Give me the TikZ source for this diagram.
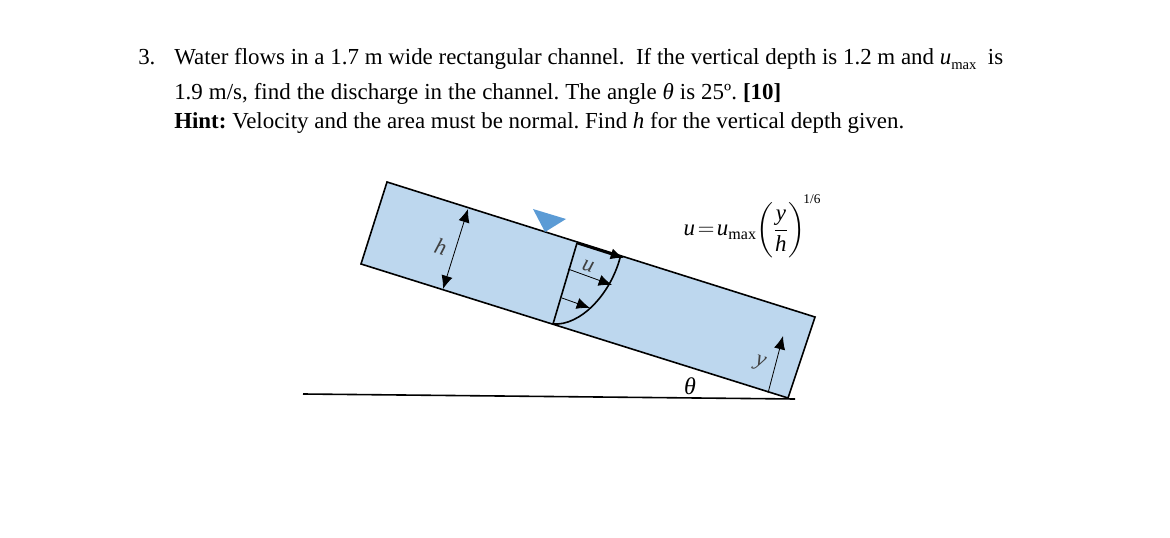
\documentclass[tikz,border=0pt]{standalone}
\usepackage{amsmath}
\usepackage{fontspec}
\setmainfont{Liberation Serif}
\usetikzlibrary{arrows.meta}
\definecolor{waterblue}{HTML}{BDD7EE}
\definecolor{surfaceblue}{HTML}{5B9BD5}
\definecolor{labelgrey}{HTML}{404040}
\tikzset{
    textline/.style = {anchor = base west, inner sep = 0pt, font = \fontsize{17.2}{20}\selectfont\frenchspacing},
    channelline/.style = {draw = black, line width = 1.2pt},
    velarrow/.style = {-{Latex[length = 10pt, width = 8.5pt]}, line width = 0.6pt},
    tilted/.style = {rotate = -17.5, text = labelgrey, font = \fontsize{17}{20}\selectfont\itshape}
}
\begin{document}
\begin{tikzpicture}[x = 0.75pt, y = -0.75pt]
    \useasboundingbox (0, 0) rectangle (1170, 538);

    \node[textline] (num) at (138, 65) {3.};
    \node[textline] (line1) at (174, 65) {\makebox[621.75pt][s]{Water flows in a 1.7 m wide rectangular channel.\ \ If the vertical depth is 1.2 m and \textit{u}\raisebox{-0.45ex}{\fontsize{11}{12}\selectfont max}\ \ is}};
    \node[textline] (line2) at (174, 100) {\makebox[455.25pt][s]{1.9 m/s, find the discharge in the channel. The angle \textit{θ} is 25º. \textbf{[10]}}};
    \node[textline] (line3) at (174, 129) {\makebox[547.5pt][s]{\textbf{Hint:} Velocity and the area must be normal. Find \textit{h} for the vertical depth given.}};

    \coordinate (topleft) at (387, 182);
    \coordinate (botleft) at (361, 264);
    \coordinate (botright) at (788, 398);
    \coordinate (topright) at (815, 317);
    \draw[channelline, fill = waterblue] (topleft) -- (topright) -- (botright) -- (botleft) -- cycle;

    \coordinate (groundl) at (303, 394);
    \coordinate (groundr) at (795, 399);
    \draw[line width = 1.2pt] (groundl) -- (groundr);

    \coordinate (surf1) at (533, 209);
    \coordinate (surf2) at (566, 219);
    \coordinate (surf3) at (545, 232);
    \fill[surfaceblue] (surf1) -- (surf2) -- (surf3) -- cycle;

    % depth and velocity profile
    \coordinate (htop) at (468, 209);
    \coordinate (hbot) at (443, 289);
    \draw[{Latex[length = 10pt, width = 8.5pt]}-{Latex[length = 10pt, width = 8.5pt]}, line width = 0.6pt] (htop) -- (hbot);

    \coordinate (proftop) at (577, 243);
    \coordinate (profbot) at (553, 324);
    \coordinate (tip1) at (624, 258);
    \coordinate (tail2) at (568, 269);
    \coordinate (tip2) at (612, 285);
    \coordinate (tail3) at (562, 298);
    \coordinate (tip3) at (590, 308);
    \draw[line width = 1.2pt] (proftop) -- (profbot);
    \draw[line width = 1.2pt] (profbot) .. controls (580, 326) and (610, 295) .. (620, 258);
    \draw[-{Latex[length = 10pt, width = 8.5pt]}, line width = 1.9pt] (proftop) -- (tip1);
    \draw[velarrow] (tail2) -- (tip2);
    \draw[velarrow] (tail3) -- (tip3);

    \coordinate (ytail) at (768, 393);
    \coordinate (ytip) at (783, 336);
    \draw[velarrow] (ytail) -- (ytip);

    \node[tilted] (hlabel) at (441, 247) {h};
    \node[tilted] (ulabel) at (588, 266) {u};
    \node[tilted] (ylabel) at (760, 363) {y};
    \node[font = \fontsize{18}{20}\selectfont\itshape] (thetalabel) at (690, 386) {θ};

    \node[inner sep = 0pt, font = \fontsize{17.2}{20}\selectfont] (formula) at (744.5, 230) {$\textit{u}\!=\!\textit{u}_{\text{max}}\biggl(\dfrac{\textit{y}}{\textit{h}}\biggr)$};
    \node[inner sep = 0pt, font = \fontsize{10}{12}\selectfont] (exponent) at (812, 199) {1/6};
\end{tikzpicture}
\end{document}
